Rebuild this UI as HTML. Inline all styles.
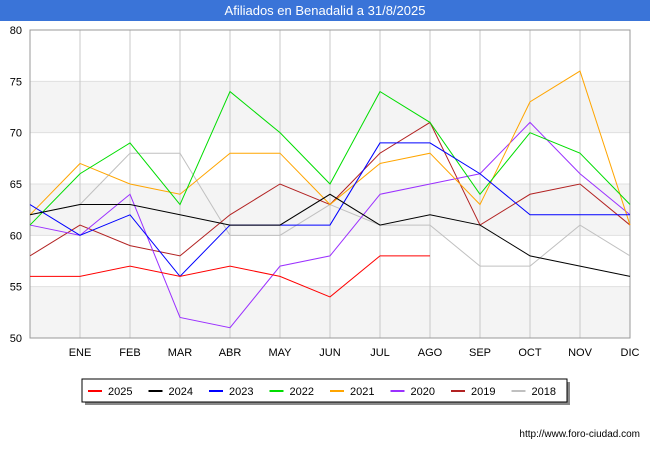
<!DOCTYPE html>
<html><head><meta charset="utf-8"><style>
body{margin:0;width:650px;height:450px;background:#fff;font-family:"Liberation Sans",sans-serif;overflow:hidden}
#title{position:absolute;left:0;top:0;width:650px;height:21px;background:#3a74d8;color:#fff;font-size:13px;text-align:center;line-height:21px}
svg{position:absolute;left:0;top:0}
</style></head><body>
<div id="title">Afiliados en Benadalid a 31/8/2025</div>
<svg id="c" width="650" height="450"></svg>
<script>
const months=["","ENE","FEB","MAR","ABR","MAY","JUN","JUL","AGO","SEP","OCT","NOV","DIC"];
const yTicks=[50,55,60,65,70,75,80];
const seriesNames=["2025","2024","2023","2022","2021","2020","2019","2018"];
const colors=["#ff0000","#000000","#0000ff","#00dd00","#ffa500","#9b30ff","#b22222","#c0c0c0"];
const s2025=[56,56,57,56,57,56,54,58,58];
const s2024=[62,63,63,62,61,61,64,61,62,61,58,57,56];
const s2023=[63,60,62,56,61,61,61,69,69,66,62,62,62];
const s2022=[61,66,69,63,74,70,65,74,71,64,70,68,63];
const s2021=[62,67,65,64,68,68,63,67,68,63,73,76,61];
const s2020=[61,60,64,52,51,57,58,64,65,66,71,66,62];
const s2019=[58,61,59,58,62,65,63,68,71,61,64,65,61];
const s2018=[62,63,68,68,60,60,63,61,61,57,57,61,58];
const allSeries=[s2025,s2024,s2023,s2022,s2021,s2020,s2019,s2018];
const L=30,R=630,T=30,B=338;
const x=i=>L+i*(R-L)/(months.length-1);
const y=v=>B-(v-50)*(B-T)/30;
const svg=document.getElementById('c');const NS='http://www.w3.org/2000/svg';
function mk(t,a,p){const e=document.createElementNS(NS,t);for(const k in a)e.setAttribute(k,a[k]);(p||svg).appendChild(e);return e;}
// bands
for(let v=50;v<80;v+=10){const r=mk('rect',{x:L,y:y(v+5),width:R-L,height:y(v)-y(v+5),fill:'#f4f4f4'});

}
yTicks.forEach(v=>{const l=mk('line',{x1:L,x2:R,y1:y(v),y2:y(v),stroke:'#e0e0e0'});


const t=mk('text',{x:L-8,y:y(v)+4,'text-anchor':'end','font-size':11,fill:'#000'});t.textContent=v;

});
months.forEach((m,i)=>{const l=mk('line',{x1:x(i),x2:x(i),y1:T,y2:B,stroke:'#c8c8c8'});


const t=mk('text',{x:x(i),y:B+18,'text-anchor':'middle','font-size':11,fill:'#000'});t.textContent=m;

});
const fr=mk('rect',{x:L,y:T,width:R-L,height:B-T,fill:'none',stroke:'#999'});


for(let k=allSeries.length-1;k>=0;k--){const d=allSeries[k].map((v,i)=>x(i)+','+y(v)).join(' ');
const p=mk('polyline',{points:d,fill:'none',stroke:colors[k],'stroke-width':1});

}
// legend
const g=mk('g',{});
mk('rect',{x:85,y:382,width:485,height:23,fill:'#888'},g);
mk('rect',{x:82,y:379,width:485,height:23,fill:'#fff',stroke:'#000'},g);
seriesNames.forEach((n,k)=>{const lx=88+k*60.5;
mk('line',{x1:lx,x2:lx+14,y1:391,y2:391,stroke:colors[k],'stroke-width':2},g);
const t=mk('text',{x:lx+20,y:395,'font-size':11,fill:'#000'},g);t.textContent=n;

});
const u=mk('text',{x:640,y:437,'text-anchor':'end','font-size':10,fill:'#000'});u.textContent='http://www.foro-ciudad.com';


</script>
</body></html>
